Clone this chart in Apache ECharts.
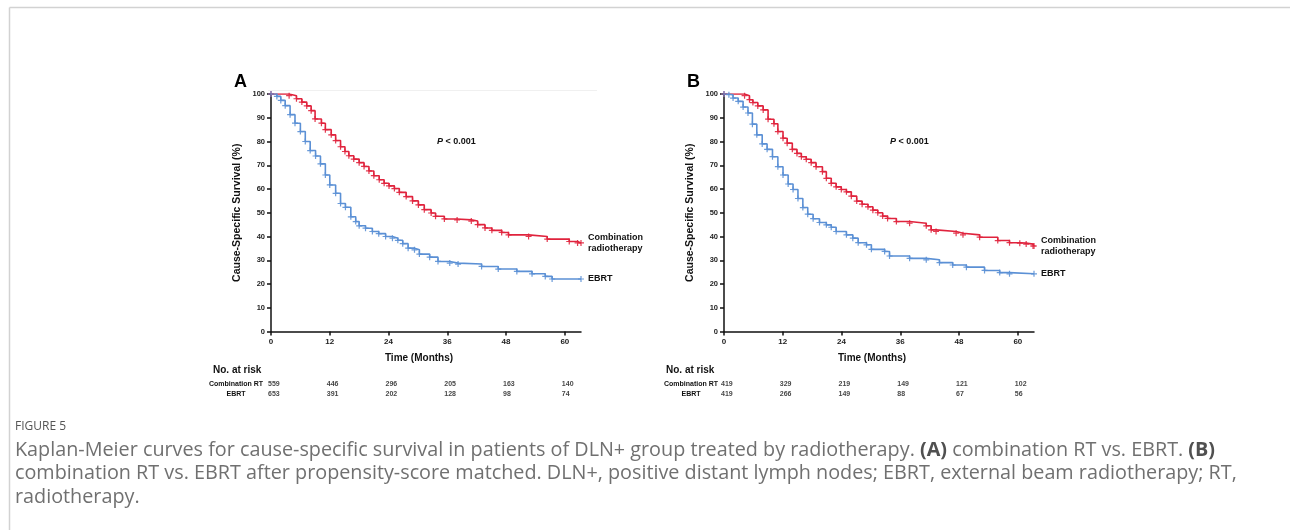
<!DOCTYPE html>
<html>
<head>
<meta charset="utf-8">
<script src="https://cdn.jsdelivr.net/npm/echarts@6/dist/echarts.min.js"></script>
<style>
  html, body { margin: 0; padding: 0; background: #fff; }
  #chart { width: 1290px; height: 530px; }
</style>
</head>
<body>
<div id="chart"></div>
<script>
// KM step points [month, survival %]
const comboA = [[0,100],[3.7,99.3],[5.2,98],[6.3,96.6],[7.3,95],[8.2,93],[9.0,89.5],[10.3,87.7],[11.1,85],[12.3,82.8],[13.2,80.4],[14.2,77.8],[15.1,75.8],[15.9,74],[16.9,72.6],[18,71.1],[19,69.5],[20,67.6],[21,65.6],[22.1,63.9],[23.1,62.4],[24.1,61.3],[25.2,60.2],[26.2,58.6],[27.6,56.8],[28.9,55],[30.1,53.3],[31.3,51.3],[32.7,49.9],[33.6,48.5],[35.4,47.4],[38,47.0],[40.9,46.5],[42.2,45],[43.7,43.6],[45.1,42.6],[47.1,41.7],[48.5,40.7],[52.6,40],[56.4,38.9],[60.9,37.9],[62.6,37.3],[63.3,37.3]]
const ebrtA = [[0,100],[1.2,99],[2.0,97.3],[2.9,95.1],[3.9,91.3],[4.9,87.7],[6.0,84.2],[7,80],[8,76.2],[9.1,73.9],[10.1,70.6],[11.1,65.9],[12,61.7],[13.2,58.2],[14.2,53.9],[15.2,52.3],[16.3,48.3],[17.3,46.3],[18,44.5],[19.3,43.5],[20.7,42.1],[22,41.2],[23.4,40],[24.8,39.3],[25.9,38.4],[26.9,37],[28.0,35.1],[29.3,34.4],[30.3,32.6],[32.4,31.3],[34.1,29.5],[36.5,28.8],[38.2,28.4],[43,27.4],[46.4,26.3],[50.2,25.3],[53.3,24.3],[56,23.2],[57.4,22.1],[63.3,22.1]]
const comboB = [[0,100],[4.2,99.3],[5.2,97.6],[5.9,96.4],[6.9,95],[8.0,93.3],[9,89.4],[10.2,87.5],[11,84.2],[12.05,81.4],[12.9,79.3],[13.95,76.7],[14.9,75],[15.8,73.6],[16.8,72.5],[17.8,71.1],[18.8,69.4],[20.1,67.3],[20.9,64.5],[21.9,62.4],[22.9,60.9],[23.95,59.8],[25,58.8],[26,57],[27.1,54.9],[28.2,53.6],[29.4,52.5],[30.4,51.1],[31.4,50],[32.4,48.6],[33.4,47.6],[35.2,46.3],[37.9,45.6],[41.3,44.5],[42.3,42.8],[43.3,42.1],[47.4,41.4],[48.8,40.7],[52.2,39.7],[55.9,38.3],[58.3,37.4],[60.4,37.2],[61.7,36.8],[63.1,36.0],[63.3,36.0]]
const ebrtB = [[0,100],[1,99.7],[1.85,98.3],[2.9,96.9],[3.9,94.5],[4.9,92],[5.8,87.3],[6.7,82.8],[7.8,79],[8.8,76.7],[9.9,73.6],[11,69.4],[12.05,65.9],[13.1,62.1],[14.1,59.8],[15.1,56],[16.1,52.2],[17.1,49.4],[18.2,47.5],[19.5,45.9],[20.9,44.9],[21.9,43.9],[22.9,42.1],[25,40.7],[26.3,39.3],[27.4,37.4],[29.1,36.5],[30.1,34.6],[32.8,33.7],[33.8,31.8],[37.9,30.8],[41.3,30.2],[44,29],[46.7,28],[49.5,27.1],[53.2,25.7],[56.3,24.8],[58.3,24.3],[63.3,24.3]]

// number at risk table
const riskTimes = [0, 12, 24, 36, 48, 60]
const riskRows = ['Combination RT', 'EBRT']
const riskA_combo = [559, 446, 296, 205, 163, 140]
const riskA_ebrt = [653, 391, 202, 128, 98, 74]
const riskB_combo = [419, 329, 219, 149, 121, 102]
const riskB_ebrt = [419, 266, 149, 88, 67, 56]

const yTicks = [0, 10, 20, 30, 40, 50, 60, 70, 80, 90, 100]

const RED = '#e0233d'
const BLUE = '#5b90d5'
const FONT = 'Liberation Sans, Arial, sans-serif'
const cross = 'path://M4,0h2v10h-2zM0,4h10v2h-10z'

const chart = echarts.init(document.getElementById('chart'))

const panels = [
  { left: 271, label: 'A', combo: comboA, ebrt: ebrtA, rc: riskA_combo, re: riskA_ebrt, rowMargin: 35 },
  { left: 724, label: 'B', combo: comboB, ebrt: ebrtB, rc: riskB_combo, re: riskB_ebrt, rowMargin: 33 }
]
const plotW = 310

const grid = [], xAxis = [], yAxis = [], series = []
panels.forEach(function (p, i) {
  // main KM plot
  grid.push({ left: p.left, top: 94, width: plotW, height: 237.5 })
  xAxis.push({
    type: 'value', gridIndex: 2 * i, min: 0, max: 63.3,
    name: 'Time (Months)', nameLocation: 'middle', nameGap: 22,
    nameTextStyle: { fontFamily: FONT, fontWeight: 'bold', fontSize: 10, color: '#111', padding: [0, 14, 0, 0] },
    axisLine: { lineStyle: { color: '#111', width: 1.5 } },
    axisTick: { show: true, length: 4, lineStyle: { color: '#111', width: 1.5 }, customValues: riskTimes },
    axisLabel: { fontFamily: FONT, fontWeight: 'bold', fontSize: 8, color: '#222', margin: 6, customValues: riskTimes },
    splitLine: { show: false }
  })
  yAxis.push({
    type: 'value', gridIndex: 2 * i, min: 0, max: 100,
    name: 'Cause-Specific Survival (%)', nameLocation: 'middle', nameGap: 28, nameRotate: 90,
    nameTextStyle: { fontFamily: FONT, fontWeight: 'bold', fontSize: 10.5, color: '#111' },
    axisLine: { show: true, lineStyle: { color: '#111', width: 1.5 } },
    axisTick: { show: true, length: 4, lineStyle: { color: '#111', width: 1.5 }, customValues: yTicks },
    axisLabel: { fontFamily: FONT, fontWeight: 'bold', fontSize: 7.5, color: '#222', margin: 6, customValues: yTicks },
    splitLine: { show: false }
  })
  // risk table grid
  grid.push({ left: p.left, top: 379, width: plotW, height: 20 })
  xAxis.push({ type: 'value', gridIndex: 2 * i + 1, min: 0, max: 63.3, show: false })
  yAxis.push({
    type: 'category', gridIndex: 2 * i + 1, data: riskRows, inverse: true,
    axisLine: { show: false }, axisTick: { show: false },
    axisLabel: { fontFamily: FONT, fontWeight: 'bold', fontSize: 7, color: '#111', align: 'center', margin: p.rowMargin }
  })

  const kmLine = function (name, data, color, endText) {
    return {
      name: name, type: 'line', xAxisIndex: 2 * i, yAxisIndex: 2 * i,
      data: data, step: 'end', symbol: cross, symbolSize: 6,
      itemStyle: { color: color, opacity: 0.9 },
      lineStyle: { color: color, width: 1.6 },
      endLabel: { show: true, formatter: endText, distance: 7, fontFamily: FONT, fontWeight: 'bold', fontSize: 9, color: '#111', lineHeight: 11, align: 'left' },
      silent: true, animation: false
    }
  }
  series.push(kmLine('Combination radiotherapy', p.combo, RED, 'Combination\nradiotherapy'))
  series.push(kmLine('EBRT', p.ebrt, BLUE, 'EBRT'))

  const riskSeries = function (row, vals) {
    return {
      type: 'scatter', xAxisIndex: 2 * i + 1, yAxisIndex: 2 * i + 1,
      data: vals.map(function (v, k) { return [riskTimes[k], row, v] }),
      symbolSize: 1, itemStyle: { color: 'rgba(0,0,0,0)' },
      label: { show: true, position: 'inside', align: 'left', offset: [-3, 0], formatter: function (d) { return d.value[2] },
        fontFamily: FONT, fontWeight: 'bold', fontSize: 7, color: '#111' },
      silent: true, animation: false
    }
  }
  series.push(riskSeries(riskRows[0], p.rc))
  series.push(riskSeries(riskRows[1], p.re))
})

const graphic = [
  { type: 'line', shape: { x1: 9.5, y1: 530, x2: 9.5, y2: 7.5 }, style: { stroke: '#d2d2d2', lineWidth: 1.5 } },
  { type: 'line', shape: { x1: 9.5, y1: 7.5, x2: 1290, y2: 7.5 }, style: { stroke: '#d2d2d2', lineWidth: 1.5 } },
  { type: 'line', shape: { x1: 268, y1: 90.5, x2: 597, y2: 90.5 }, style: { stroke: '#f0f0f0', lineWidth: 1 } }
]
panels.forEach(function (p) {
  graphic.push({ type: 'text', x: p.left - 37, y: 82, style: { text: p.label, fontFamily: FONT, fontWeight: 'bold', fontSize: 18, fill: '#000', verticalAlign: 'middle' } })
  graphic.push({ type: 'text', x: p.left + 166, y: 142, style: {
    text: '{i|P} < 0.001', verticalAlign: 'middle', fontFamily: FONT, fontWeight: 'bold', fontSize: 9, fill: '#111',
    rich: { i: { fontStyle: 'italic', fontWeight: 'bold', fontFamily: FONT, fontSize: 9, fill: '#111' } } } })
  graphic.push({ type: 'text', x: p.left - 58, y: 370, style: { text: 'No. at risk', fontFamily: FONT, fontWeight: 'bold', fontSize: 10, fill: '#111', verticalAlign: 'middle' } })
})

const capFont = '"Open Sans", "Noto Sans", sans-serif'
const capStyle = { fontFamily: capFont, fontSize: 19.8, fill: '#707070', verticalAlign: 'middle' }
const capRich = { b: { fontFamily: capFont, fontSize: 19.8, fill: '#505050', fontWeight: 'bold' } }
graphic.push({ type: 'text', x: 15, y: 427, style: Object.assign({}, capStyle, { text: 'FIGURE 5', fontSize: 12, fill: '#555' }) })
graphic.push({ type: 'text', x: 15, y: 450, style: Object.assign({}, capStyle, { rich: capRich,
  text: 'Kaplan-Meier curves for cause-specific survival in patients of DLN+ group treated by radiotherapy. {b|(A)} combination RT vs. EBRT. {b|(B)}' }) })
graphic.push({ type: 'text', x: 15, y: 473.5, style: Object.assign({}, capStyle, {
  text: 'combination RT vs. EBRT after propensity-score matched. DLN+, positive distant lymph nodes; EBRT, external beam radiotherapy; RT,' }) })
graphic.push({ type: 'text', x: 15, y: 497, style: Object.assign({}, capStyle, { text: 'radiotherapy.' }) })

chart.setOption({
  backgroundColor: '#fff',
  animation: false,
  grid: grid,
  xAxis: xAxis,
  yAxis: yAxis,
  series: series,
  graphic: graphic
})
</script>
</body>
</html>
